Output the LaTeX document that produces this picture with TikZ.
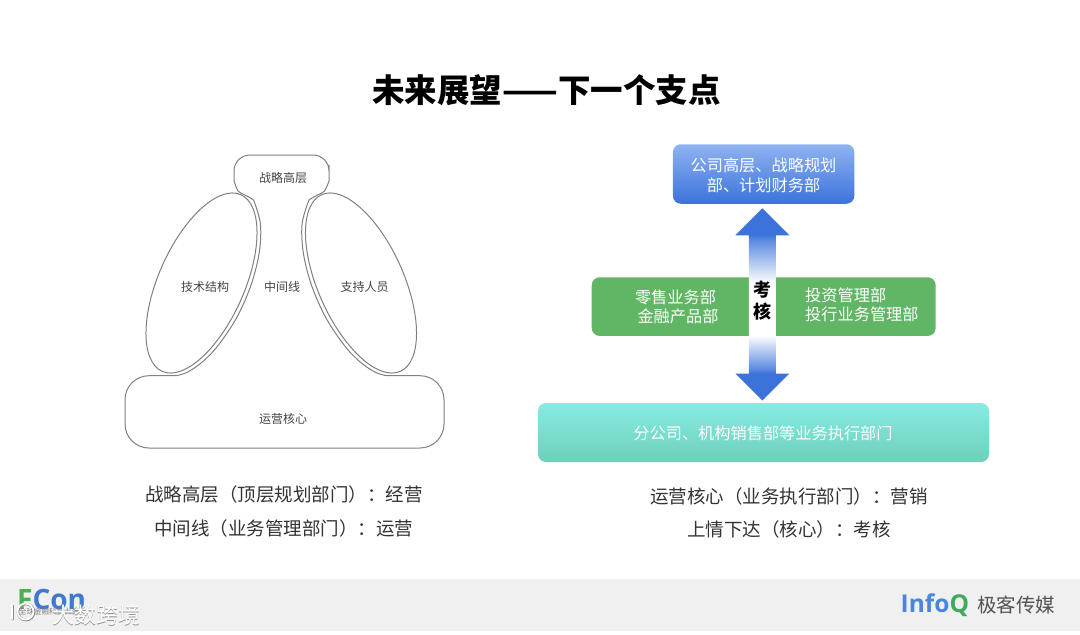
\documentclass[tikz,border=0pt]{standalone}
\usepackage{fontspec}
\setmainfont{Noto Sans CJK SC}
\newfontfamily\latn{Open Sans}
\usetikzlibrary{calc}
\definecolor{outl}{HTML}{808080}
\definecolor{lab}{HTML}{444444}
\definecolor{cap}{HTML}{333333}
\definecolor{blueT}{HTML}{8FB2F2}
\definecolor{blueB}{HTML}{3B73DA}
\definecolor{grn}{HTML}{60B664}
\definecolor{tealT}{HTML}{86EBE4}
\definecolor{tealB}{HTML}{6ED0BA}
\definecolor{band}{HTML}{F0F0F0}
\pgfdeclareverticalshading{arrowshade}{100bp}{
 color(0bp)=(blueB); color(25bp)=(blueB); color(32bp)=(blueB);
 color(33bp)=(blueB!85!white); color(42bp)=(white); color(55.5bp)=(white);
 color(67bp)=(blueB!85!white); color(68bp)=(blueB); color(75bp)=(blueB); color(100bp)=(blueB)}
\tikzset{
 x=1pt,y=-1pt,
 lbl/.style={font=\fontsize{12}{12}\selectfont,text=lab,inner sep=0pt},
 capt/.style={font=\fontsize{18.5}{18.5}\selectfont,text=cap,inner sep=0pt},
 bx/.style={rounded corners=8pt,inner sep=0pt},
 boxtxt/.style={font=\fontsize{16.2}{16.2}\selectfont,text=white,inner sep=0pt},
 oval/.style={draw=outl,line width=1pt},
 wmshadow/.style={inner sep=0pt,anchor=west,font=\fontsize{22}{22}\selectfont,text=black!45},
 wmtext/.style={inner sep=0pt,anchor=west,font=\fontsize{22}{22}\selectfont,text=white}
}
\begin{document}
\begin{tikzpicture}
\useasboundingbox (0,0) rectangle (1080,635);
\fill[white] (0,0) rectangle (1080,635);
\node[inner sep=0pt,font=\fontsize{32.5}{33}\selectfont\bfseries] (title) at (546.5,90) {未来展望——下一个支点};
% left figure
\draw[oval,rounded corners=16pt] (234,181) -- (234,155) -- (329,155) -- (329,181) [sharp corners]
 -- plot[smooth,tension=.55] coordinates {(329,181)(324.5,191)(318.5,194.5)(310.5,199)(307.8,203)(302,224.8)(303.4,253.5)(311.7,285.8)(325.9,317.8)(344.4,345.5)(359.7,361.6)(375.1,372.2)(386.5,375.7)}
 [rounded corners=24pt] -- (444,375.7) -- (444,448) -- (125,448) -- (125,375.7) [sharp corners] -- (176,375.7)
 -- plot[smooth,tension=.55] coordinates {(176,375.7)(187.4,372.2)(202.8,361.6)(218.1,345.5)(236.6,317.8)(250.8,285.8)(259.1,253.5)(260.5,224.8)(254.7,203)(252,199)(244,194.5)(238,191)(234,181)};
\draw[oval] (201.5,283) ellipse[x radius=42.9,y radius=96.7,rotate=-24];
\draw[oval] (361,283) ellipse[x radius=42.9,y radius=96.7,rotate=24];
\node[lbl] (n1) at (283,177.5) {战略高层};
\node[lbl] (n2) at (205,287) {技术结构};
\node[lbl] (n3) at (282,287) {中间线};
\node[lbl] (n4) at (364.5,287) {支持人员};
\node[lbl] (n5) at (283,419) {运营核心};
% right figure
\node[bx,minimum width=181.5pt,minimum height=59.5pt,top color=blueT,bottom color=blueB] (top) at (763.6,174) {};
\node[bx,minimum width=344pt,minimum height=58.7pt,fill=grn] (mid) at (763.7,306.6) {};
\node[bx,minimum width=451pt,minimum height=59pt,top color=tealT,bottom color=tealB] (bot) at (763.5,432.5) {};
\node[boxtxt] (t1) at (763.5,165) {公司高层、战略规划};
\node[boxtxt] (t2) at (763.5,185) {部、计划财务部};
\node[boxtxt] (b1) at (763,433) {分公司、机构销售部等业务执行部门};
\coordinate (tt) at ($(top.south)+(-1.3,4.3)$);
\coordinate (tb) at ($(bot.north)+(-1.2,-2.3)$);
\path[shading=arrowshade] (tt) -- ++(27,27) -- ++(-13.5,0) |- ($(tb)+(13.5,-27)$) -- ++(13.5,0) -- (tb) -- ++(-27,-27) -- ++(13.5,0) |- ($(tt)+(-13.5,27)$) -- ++(-13.5,0) -- cycle;
\node[boxtxt] (m1) at (675.5,297) {零售业务部};
\node[boxtxt] (m2) at (678,316) {金融产品部};
\node[boxtxt,anchor=west] (m3) at (805,295) {投资管理部};
\node[boxtxt,anchor=west] (m4) at (805,314) {投行业务管理部};
\node[inner sep=0pt,font=\fontsize{18}{22}\selectfont\bfseries,align=center] (kao) at (762.5,301) {考\\核};
% captions
\node[capt] (c1) at (284,494) {战略高层（顶层规划部门）：经营};
\node[capt] (c2) at (283.5,528) {中间线（业务管理部门）：运营};
\node[capt] (c3) at (789,496) {运营核心（业务执行部门）：营销};
\node[capt] (c4) at (789,529) {上情下达（核心）：考核};
% footer
\fill[band] (0,579) rectangle (1080,631);
\node[inner sep=0pt,anchor=west,font=\latn\fontsize{28}{28}\selectfont\bfseries] (fcon) at (17,599) {\textcolor[HTML]{4CAF50}{F}\textcolor[HTML]{3F78D0}{Con}};
\node[inner sep=0pt,anchor=west,font=\fontsize{7.5}{8}\selectfont,text=gray] (fsub) at (19,612) {全球金融科技大会};
% watermark
\draw[black!45,line width=2.6pt] (12.5,605) -- (12.5,620) (26,612) circle[radius=8];
\draw[white,line width=1.8pt] (12,604.5) -- (12,619.5) (25.5,611.5) circle[radius=8];
\node[wmshadow] (wm0) at (52.7,615.7) {大数跨境};
\node[wmtext] (wm) at (52,615) {大数跨境};
\node[inner sep=0pt,anchor=west,font=\latn\fontsize{24.5}{25}\selectfont\bfseries] (iq) at (900.5,605) {\textcolor[HTML]{4A86E0}{Info}\textcolor[HTML]{3CAB5A}{Q}};
\node[inner sep=0pt,anchor=west,font=\fontsize{19.5}{20}\selectfont,text=black!68] (jk) at (977,605) {极客传媒};
\end{tikzpicture}
\end{document}
